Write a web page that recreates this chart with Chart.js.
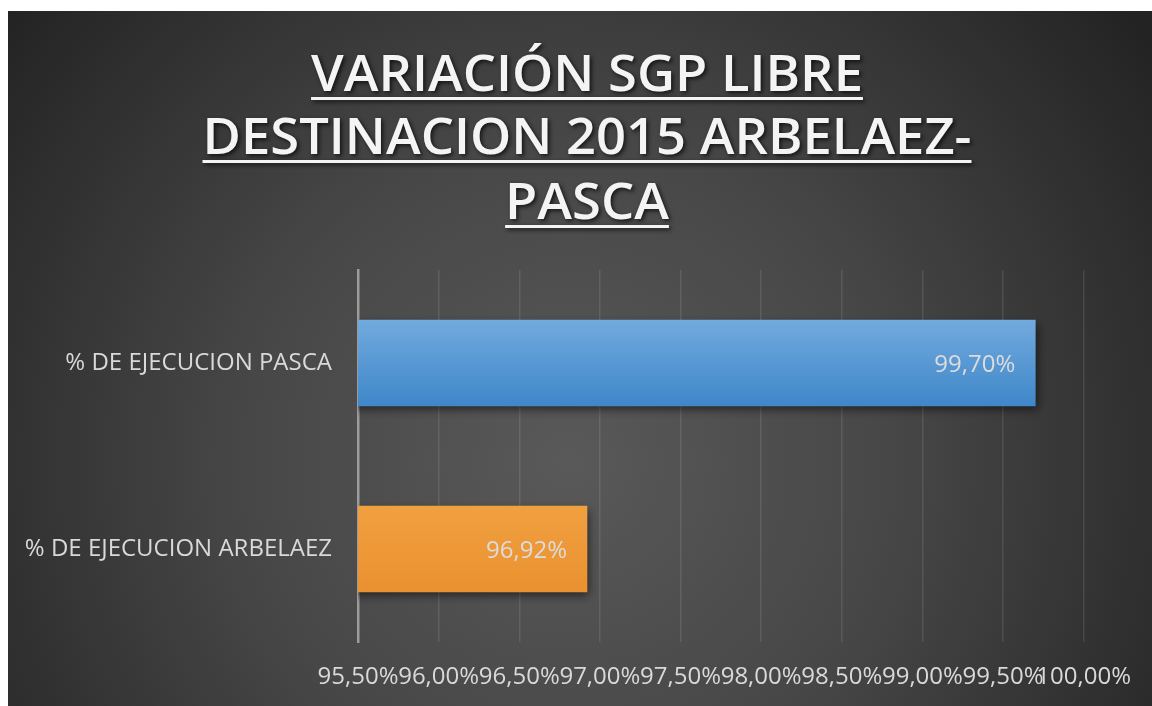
<!DOCTYPE html>
<html>
<head>
<meta charset="utf-8">
<script src="https://cdn.jsdelivr.net/npm/chart.js@4.4.1/dist/chart.umd.min.js"></script>
<style>
  html, body { margin: 0; padding: 0; background: #ffffff; }
  #caja { position: absolute; left: 8px; top: 11px; width: 1144px; height: 695px; }
</style>
</head>
<body>
<div id="caja"><canvas id="graficoSGP" width="1144" height="695"></canvas></div>
<script>
// datos del grafico
const categorias = ["% DE EJECUCION PASCA", "% DE EJECUCION ARBELAEZ"];
const valores = [99.70, 96.92];
const ticksX = [95.5, 96.0, 96.5, 97.0, 97.5, 98.0, 98.5, 99.0, 99.5, 100.0];
const titulo = ["VARIACIÓN SGP LIBRE", "DESTINACION 2015 ARBELAEZ-", "PASCA"];

const coloresArriba = ["#72aade", "#f1a040"];
const coloresAbajo = ["#3f87c9", "#ea9130"];

function formatoPct(v) {
  return v.toFixed(2).replace(".", ",") + "%";
}

// fondo oscuro con degradado
const fondo = {
  id: "fondo",
  beforeDraw(chart) {
    const ctx = chart.ctx;
    const g = ctx.createRadialGradient(560, 450, 0, 560, 450, 720);
    g.addColorStop(0, "#595959");
    g.addColorStop(0.45, "#474747");
    g.addColorStop(1, "#232323");
    ctx.save();
    ctx.fillStyle = g;
    ctx.fillRect(0, 0, chart.width, chart.height);
    ctx.restore();
  }
};

// titulo subrayado con sombra
const tituloPlugin = {
  id: "tituloPlugin",
  afterDraw(chart) {
    const ctx = chart.ctx;
    const cx = 579;
    const bases = [80, 143, 208];
    ctx.save();
    ctx.font = "600 50px 'Open Sans'";
    const sx = 769 / ctx.measureText(titulo[1]).width;
    ctx.textAlign = "center";
    ctx.textBaseline = "alphabetic";
    ctx.shadowColor = "rgba(0,0,0,0.7)";
    ctx.shadowBlur = 4;
    ctx.shadowOffsetX = 2;
    ctx.shadowOffsetY = 2;
    ctx.fillStyle = "#f4f4f4";
    titulo.forEach((linea, i) => {
      const w = ctx.measureText(linea).width * sx;
      ctx.save();
      ctx.translate(cx, bases[i]);
      ctx.scale(sx, 1);
      ctx.fillText(linea, 0, 0);
      ctx.restore();
      ctx.fillRect(cx - w / 2, bases[i] + 6, w, 3);
    });
    ctx.restore();
  }
};

// sombra de las barras
const sombra = {
  id: "sombra",
  beforeDatasetsDraw(chart) {
    const ctx = chart.ctx;
    ctx.save();
    ctx.shadowColor = "rgba(0,0,0,0.55)";
    ctx.shadowBlur = 9;
    ctx.shadowOffsetX = 2;
    ctx.shadowOffsetY = 4;
  },
  afterDatasetsDraw(chart) {
    chart.ctx.restore();
  }
};

// etiquetas de valor dentro de la barra
const etiquetas = {
  id: "etiquetas",
  afterDatasetsDraw(chart) {
    const ctx = chart.ctx;
    const meta = chart.getDatasetMeta(0);
    ctx.save();
    ctx.font = "24px 'Open Sans'";
    ctx.fillStyle = "#dcdcdc";
    ctx.textAlign = "right";
    ctx.textBaseline = "middle";
    meta.data.forEach((bar, i) => {
      ctx.fillText(formatoPct(valores[i]), bar.x - 20, bar.y + 2);
    });
    ctx.restore();
  }
};

const ctx = document.getElementById("graficoSGP");

new Chart(ctx, {
  type: "bar",
  data: {
    labels: categorias,
    datasets: [{
      data: valores,
      barThickness: 86,
      borderWidth: 0,
      backgroundColor: (c) => {
        const chart = c.chart;
        const i = c.dataIndex;
        if (!chart.chartArea || !chart.scales.y || i === undefined) return coloresAbajo[i || 0];
        const yc = chart.scales.y.getPixelForValue(i);
        const g = chart.ctx.createLinearGradient(0, yc - 43, 0, yc + 43);
        g.addColorStop(0, coloresArriba[i]);
        g.addColorStop(1, coloresAbajo[i]);
        return g;
      }
    }]
  },
  options: {
    indexAxis: "y",
    responsive: false,
    animation: false,
    layout: { padding: { top: 259, left: 0, right: 68, bottom: 0 } },
    plugins: {
      legend: { display: false },
      title: { display: false },
      tooltip: { enabled: false }
    },
    scales: {
      x: {
        min: ticksX[0],
        max: ticksX[ticksX.length - 1],
        afterBuildTicks(scale) {
          scale.ticks = ticksX.map(v => ({ value: v }));
        },
        afterFit(scale) { scale.height = 64; },
        grid: {
          color: "rgba(255,255,255,0.10)",
          lineWidth: 1.5,
          drawTicks: false
        },
        border: { display: false },
        ticks: {
          padding: 21,
          color: "#d9d9d9",
          font: { family: "'Open Sans'", size: 24 },
          maxRotation: 0,
          autoSkip: false,
          callback: (v) => formatoPct(v)
        }
      },
      y: {
        afterFit(scale) { scale.width = 350; },
        grid: { display: false, drawTicks: false },
        border: { display: true, color: "#9c9c9c", width: 2.5 },
        ticks: {
          padding: 26,
          color: "#d9d9d9",
          font: { family: "'Open Sans'", size: 24 }
        }
      }
    }
  },
  plugins: [fondo, sombra, etiquetas, tituloPlugin]
});
</script>
</body>
</html>
